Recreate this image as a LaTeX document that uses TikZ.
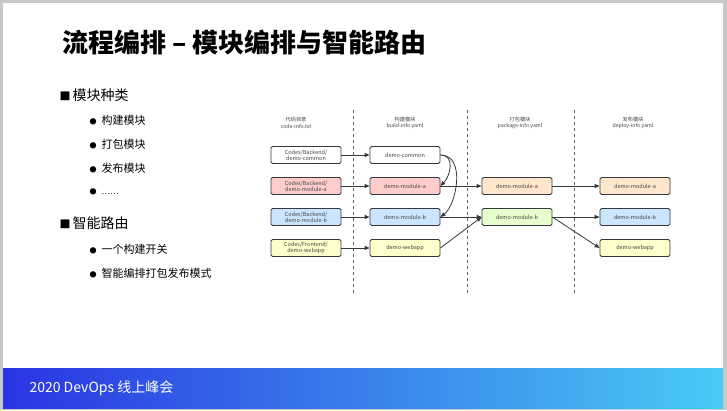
\documentclass[tikz,border=0pt]{standalone}
\usepackage{fontspec}
\setmainfont{Noto Sans CJK SC}
\usepackage{tikz}
\usetikzlibrary{arrows.meta,positioning}

\definecolor{frame}{HTML}{C8C8C8}
\definecolor{barL}{HTML}{2A34E2}
\definecolor{barR}{HTML}{48CBF4}
\definecolor{boxline}{HTML}{36393D}
\definecolor{txt}{HTML}{444444}
\definecolor{pinkfill}{HTML}{FFCCCC}
\definecolor{bluefill}{HTML}{CCE5FF}
\definecolor{yellowfill}{HTML}{FFFFCC}
\definecolor{peachfill}{HTML}{FFE6CC}
\definecolor{greenfill}{HTML}{E6FFCC}

\begin{document}
\begin{tikzpicture}[
    x=1pt, y=-1pt,
    modbox/.style={rectangle, rounded corners=1.5pt, draw=boxline, line width=0.8pt, minimum width=70pt, minimum height=17pt, inner sep=1pt, align=center, text=txt, font=\fontsize{5.5}{6.3}\selectfont},
    hdr/.style={align=center, text=txt, font=\fontsize{5.2}{6.5}\selectfont},
    arrow/.style={-{Triangle[length=5pt,width=4pt]}, line width=0.8pt, draw=boxline},
    sep/.style={dashed, line width=0.9pt, draw=boxline!80},
    item/.style={anchor=west, font=\fontsize{14}{16}\selectfont},
    subitem/.style={anchor=west, font=\fontsize{11}{13}\selectfont}
]
\useasboundingbox (0,0) rectangle (727,410);

% Slide
\fill[frame] (0,0) rectangle (727,410);
\fill[white] (3,3) rectangle (723,408);
\shade[left color=barL, right color=barR] (3,368) rectangle (723,408);

% Title and footer
\node[anchor=west, font=\fontsize{26}{30}\selectfont\bfseries] (title) at (59,43) {流程编排 – 模块编排与智能路由};
\node[anchor=west, text=white, font=\fontsize{14}{16}\selectfont] (foot) at (26,388) {2020 DevOps 线上峰会};

% Bullets
\node[item] (kinds) at (56,95) {{\fontsize{11}{13}\selectfont■}\hspace{2pt}模块种类};
\node[subitem] (k1) at (86,120) {{\fontsize{7}{8}\selectfont●}\hspace{5pt}构建模块};
\node[subitem] (k2) at (86,144) {{\fontsize{7}{8}\selectfont●}\hspace{5pt}打包模块};
\node[subitem] (k3) at (86,168) {{\fontsize{7}{8}\selectfont●}\hspace{5pt}发布模块};
\node[subitem] (k4) at (86,192) {{\fontsize{7}{8}\selectfont●}\hspace{5pt}{\fontsize{8}{10}\selectfont ……}};
\node[item] (route) at (56,223) {{\fontsize{11}{13}\selectfont■}\hspace{2pt}智能路由};
\node[subitem] (r1) at (86,249) {{\fontsize{7}{8}\selectfont●}\hspace{5pt}一个构建开关};
\node[subitem] (r2) at (86,273) {{\fontsize{7}{8}\selectfont●}\hspace{5pt}智能编排打包发布模式};

% Column headers
\node[hdr] (h1) at (296,123) {代码目录\\code-info.txt};
\node[hdr] (h2) at (405,123) {构建模块\\build-info.yaml};
\node[hdr] (h3) at (520,123) {打包模块\\package-info.yaml};
\node[hdr] (h4) at (633,123) {发布模块\\deploy-info.yaml};

% Separators
\draw[sep] (353,110) -- (353,295);
\draw[sep] (467,110) -- (467,295);
\draw[sep] (574,110) -- (574,295);

% Code dirs
\node[modbox, fill=white] (code-common) at (306,155) {Codes/Backend/\\demo-common};
\node[modbox, fill=pinkfill] (code-a) at (306,186) {Codes/Backend/\\demo-module-a};
\node[modbox, fill=bluefill] (code-b) at (306,217) {Codes/Backend/\\demo-module-b};
\node[modbox, fill=yellowfill] (code-web) at (306,248) {Codes/Frontend/\\demo-webapp};

% Build modules
\node[modbox, fill=white] (build-common) at (405,155) {demo-common};
\node[modbox, fill=pinkfill] (build-a) at (405,186) {demo-module-a};
\node[modbox, fill=bluefill] (build-b) at (405,217) {demo-module-b};
\node[modbox, fill=yellowfill] (build-web) at (405,248) {demo-webapp};

% Package modules
\node[modbox, fill=peachfill] (pack-a) at (517,186) {demo-module-a};
\node[modbox, fill=greenfill] (pack-b) at (517,217) {demo-module-b};

% Deploy modules
\node[modbox, fill=peachfill] (deploy-a) at (635,186) {demo-module-a};
\node[modbox, fill=bluefill] (deploy-b) at (635,217) {demo-module-b};
\node[modbox, fill=yellowfill] (deploy-web) at (635,248) {demo-webapp};

% Arrows
\draw[arrow] (code-common) -- (build-common);
\draw[arrow] (code-a) -- (build-a);
\draw[arrow] (code-b) -- (build-b);
\draw[arrow] (code-web) -- (build-web);
\draw[arrow] (build-common.east) .. controls +(15,0) and +(10,-10) .. (build-a.east);
\draw[arrow] (build-common.east) .. controls +(26,0) and +(16,-12) .. (build-b.east);
\draw[arrow] (build-a) -- (pack-a);
\draw[arrow] (build-b) -- (pack-b);
\draw[arrow] (build-web.east) -- (pack-b.west);
\draw[arrow] (pack-a) -- (deploy-a);
\draw[arrow] (pack-b) -- (deploy-b);
\draw[arrow] (pack-b.east) -- (deploy-web.west);

\end{tikzpicture}
\end{document}
